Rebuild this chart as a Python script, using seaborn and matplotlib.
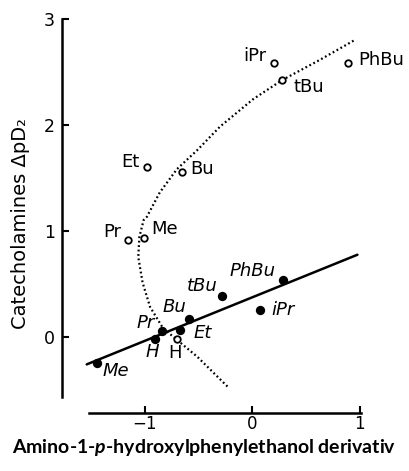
import numpy as np
import pandas as pd
import seaborn as sns
from matplotlib import pyplot as plt

# filled points (2-amino-1-p-hydroxyphenylethanol derivatives vs catecholamines)
filled_names = ['Me', 'H', 'Pr', 'Et', 'Bu', 'tBu', 'iPr', 'PhBu']
filled_x = [-1.44, -0.90, -0.84, -0.67, -0.59, -0.28, 0.07, 0.29]
filled_y = [-0.245, -0.02, 0.05, 0.06, 0.17, 0.38, 0.25, 0.53]

# open points
open_names = ['H', 'Pr', 'Me', 'Et', 'Bu', 'iPr', 'tBu', 'PhBu']
open_x = [-0.70, -1.16, -1.01, -0.98, -0.65, 0.20, 0.28, 0.89]
open_y = [-0.02, 0.91, 0.93, 1.60, 1.55, 2.58, 2.42, 2.58]

# dotted curve
curve_x = [-0.23, -0.51, -0.70, -0.83, -0.95, -1.02, -1.06, -1.05, -1.01,
           -0.98, -0.86, -0.70, -0.51, -0.30, 0.01, 0.28, 0.63, 0.96]
curve_y = [-0.47, -0.19, -0.03, 0.08, 0.28, 0.51, 0.75, 0.94, 1.10,
           1.13, 1.36, 1.58, 1.76, 1.98, 2.24, 2.42, 2.61, 2.80]

x_ticks = [-1, 0, 1]
y_ticks = [0, 1, 2, 3]

# label offsets in pixels (dx, dy)
filled_offsets = [(18, -8), (-3, -13), (-16, 8), (23, -3), (-14, 12), (-20, 10), (23, 0), (-31, 9)]
open_offsets = [(-2, -14), (-15, 8), (21, 9), (-17, 5), (20, 3), (-19, 7), (27, -7), (33, 3)]

sns.set_style("ticks")
plt.rcParams['font.family'] = ['DejaVu Sans']
plt.rcParams['text.color'] = 'black'
plt.rcParams['axes.labelcolor'] = 'black'
plt.rcParams['xtick.color'] = 'black'
plt.rcParams['ytick.color'] = 'black'
plt.rcParams['mathtext.fontset'] = 'custom'
plt.rcParams['mathtext.rm'] = 'Lato:bold'
plt.rcParams['mathtext.it'] = 'Lato:italic:bold'
plt.rcParams['mathtext.bf'] = 'Lato:bold'

filled = pd.DataFrame({'x': filled_x, 'y': filled_y, 'name': filled_names})
opened = pd.DataFrame({'x': open_x, 'y': open_y, 'name': open_names})
curve = pd.DataFrame({'x': curve_x, 'y': curve_y})

fig = plt.figure(figsize=(4.09, 4.71), dpi=100)
ax = fig.add_axes([0.1516, 0.1231, 0.7775, 0.8556])

# regression line drawn across the span of the x axis
ax.set_xlim(-1.54, 0.98)
sns.regplot(data=filled, x='x', y='y', ci=None, truncate=False, scatter=False,
            color='black', line_kws={'linewidth': 1.8}, ax=ax)

sns.lineplot(data=curve, x='x', y='y', sort=False, estimator=None, color='black',
             linewidth=1.6, linestyle=(0, (0.8, 1.2)), ax=ax)

sns.scatterplot(data=filled, x='x', y='y', color='black', s=45, edgecolor='black',
                linewidth=0, zorder=5, ax=ax)
sns.scatterplot(data=opened, x='x', y='y', facecolor='white', s=22, edgecolor='black',
                linewidth=1.3, zorder=5, ax=ax)

for (px, py, name), off in zip(zip(filled_x, filled_y, filled_names), filled_offsets):
    ax.annotate(name, (px, py), xytext=off, textcoords='offset pixels',
                ha='center', va='center', fontsize=13, style='italic')
for (px, py, name), off in zip(zip(open_x, open_y, open_names), open_offsets):
    ax.annotate(name, (px, py), xytext=off, textcoords='offset pixels',
                ha='center', va='center', fontsize=13)

ax.set_xlim(-1.77, 1.19)
ax.set_ylim(-0.72, 3.08)
ax.set_xticks(x_ticks)
ax.set_yticks(y_ticks)
ax.set_xticklabels(['\u22121', '0', '1'])
ax.tick_params(direction='in', length=5, width=1.5, labelsize=12.5)
ax.tick_params(axis='x', pad=1.5, labelsize=12)
ax.tick_params(axis='y', pad=5)
ax.set_xlabel('')
ax.set_ylabel('Catecholamines \u0394pD\u2082', fontsize=14)
ax.yaxis.set_label_coords(-0.102, 0.47)

sns.despine(ax=ax)
ax.spines['left'].set_bounds(-0.57, 3.0)
ax.spines['bottom'].set_bounds(-1.52, 1.01)
for side in ['left', 'bottom']:
    ax.spines[side].set_linewidth(1.8)
    ax.spines[side].set_color('black')

fig.text(0.5, 0.039, 'Amino-1-$\\mathit{p}$-hydroxylphenylethanol derivativ',
         ha='center', va='baseline', fontsize=14, fontweight='bold', family='Lato')

plt.savefig('out.png', dpi=100)
